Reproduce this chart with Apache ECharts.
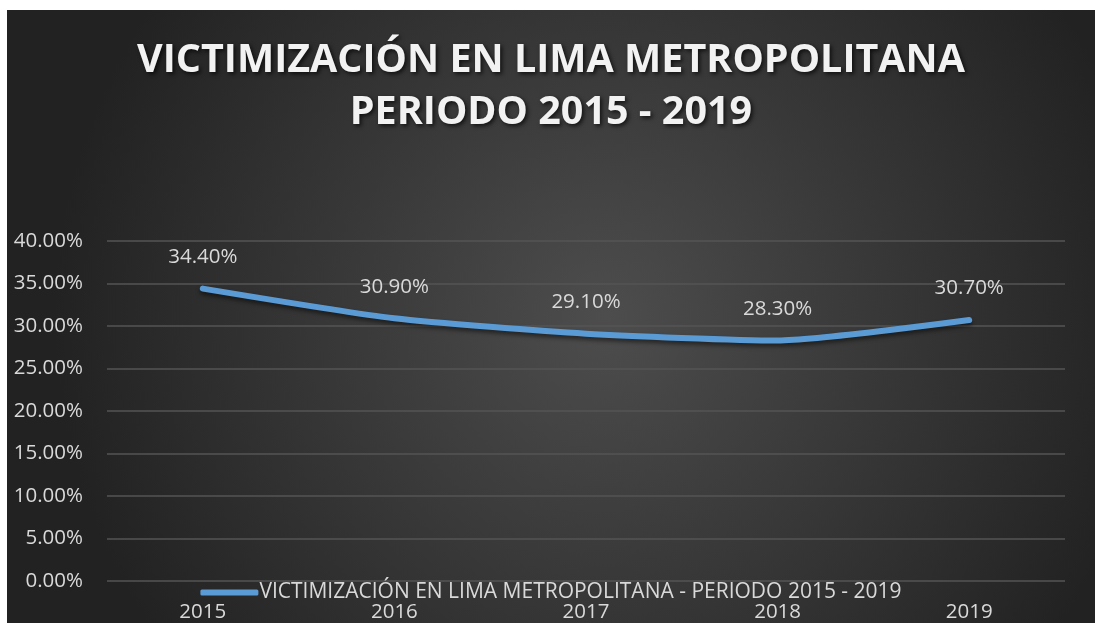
<!DOCTYPE html>
<html>
<head>
<meta charset="utf-8">
<script src="https://cdn.jsdelivr.net/npm/echarts@6/dist/echarts.min.js"></script>
<style>
html, body { margin: 0; padding: 0; background: #fff; }
#chart { position: absolute; left: 7px; top: 10px; width: 1088px; height: 613px; }
</style>
</head>
<body>
<div id="chart"></div>
<script>
var years = ['2015', '2016', '2017', '2018', '2019'];
var victimizacion = [34.4, 30.9, 29.1, 28.3, 30.7];
var seriesName = 'VICTIMIZACIÓN EN LIMA METROPOLITANA - PERIODO 2015 - 2019';
var titleLines = ['VICTIMIZACIÓN EN LIMA METROPOLITANA', 'PERIODO 2015 - 2019'];

var myChart = echarts.init(document.getElementById('chart'));

var option = {
	backgroundColor: {
		type: 'radial', x: 0.55, y: 0.5, r: 0.9,
		colorStops: [
			{ offset: 0, color: '#4d4d4d' },
			{ offset: 1, color: '#222222' }
		]
	},
	textStyle: { fontFamily: 'Open Sans' },
	title: {
		text: titleLines.join('\n'),
		left: 'center',
		top: 20,
		textStyle: {
			color: '#f2f2f2',
			fontSize: 39.5,
			fontWeight: 'bold',
			lineHeight: 52,
			textShadowColor: 'rgba(0,0,0,0.7)',
			textShadowBlur: 4,
			textShadowOffsetX: 2,
			textShadowOffsetY: 2
		}
	},
	legend: {
		top: 567,
		left: 'center',
		itemWidth: 58,
		itemHeight: 6,
		itemGap: 4,
		icon: 'roundRect',
		data: [seriesName],
		textStyle: { color: '#d9d9d9', fontSize: 21, padding: [0, 0, 0, -4] }
	},
	grid: { left: 100, right: 30, top: 231, bottom: 42 },
	xAxis: {
		type: 'category',
		data: years,
		boundaryGap: true,
		axisLine: { show: false },
		axisTick: { show: false },
		axisLabel: { color: '#d9d9d9', fontSize: 20.5, margin: 21 }
	},
	yAxis: {
		type: 'value',
		min: 0,
		max: 40,
		interval: 5,
		axisLine: { show: false },
		axisTick: { show: false },
		splitLine: { lineStyle: { color: '#555555', width: 1.5 } },
		axisLabel: {
			color: '#d9d9d9', fontSize: 20.5, margin: 24,
			formatter: function (v) { return v.toFixed(2) + '%'; }
		}
	},
	series: [{
		name: seriesName,
		type: 'line',
		data: victimizacion,
		smooth: 0.2,
		symbol: 'circle',
		symbolSize: 2,
		showSymbol: true,
		lineStyle: {
			color: '#5b9bd5', width: 6, cap: 'round',
			shadowColor: 'rgba(0,0,0,0.5)', shadowBlur: 4, shadowOffsetY: 3
		},
		itemStyle: { color: '#5b9bd5' },
		label: {
			show: true,
			position: 'top',
			distance: 20,
			color: '#d9d9d9',
			fontSize: 20.5,
			formatter: function (p) { return p.value.toFixed(2) + '%'; }
		}
	}]
};

myChart.setOption(option);
</script>
</body>
</html>
